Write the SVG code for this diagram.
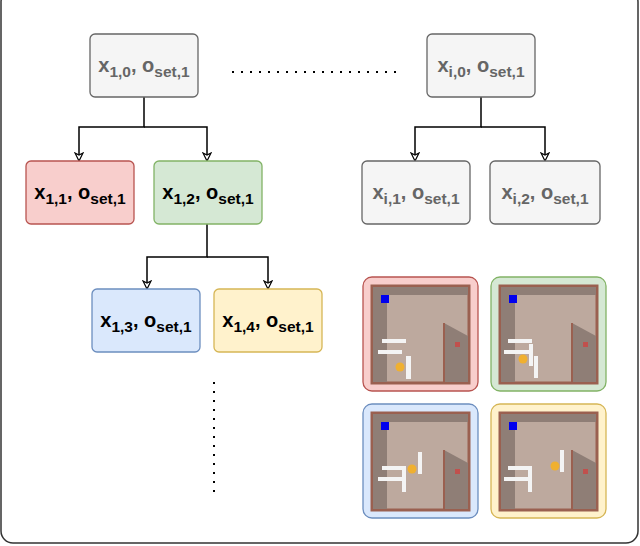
<svg xmlns="http://www.w3.org/2000/svg" xmlns:xlink="http://www.w3.org/1999/xlink" width="640" height="546" viewBox="0 0 640 546">
<style>
.n{stroke-width:1.3}
.t{font-family:"Liberation Sans",Arial,sans-serif;font-weight:bold;font-size:20px;text-anchor:middle}
.s{font-size:15.5px}
.g{fill:#666}
.c{fill:none;stroke:#000;stroke-width:1.5}
</style>
<defs>
<marker id="a" markerWidth="10" markerHeight="10" refX="8" refY="5" orient="auto" markerUnits="userSpaceOnUse" viewBox="0 0 10 10"><path d="M1,1 L9,5 L1,9 L3,5 Z" fill="#fff" stroke="#000" stroke-width="1.2"/></marker>
<g id="room">
<rect x="10" y="10" width="97" height="97" fill="#bda99e" stroke="#9a6050" stroke-width="3"/>
<rect x="11" y="11" width="95" height="8" fill="#8f7e76"/>
<rect x="11" y="11" width="14" height="95" fill="#8f7e76"/>
<path d="M82,47 L106,60 L106,106 L82,106 Z" fill="#8f7e76"/>
<line x1="82" y1="47" x2="82" y2="106" stroke="#9a6050" stroke-width="2"/>
<rect x="93" y="66" width="5" height="5" fill="#c0504d"/>
<rect x="19" y="19" width="8" height="8" fill="#0000ee"/>
</g>
</defs>
<rect x="1" y="-10" width="637" height="553" rx="12" fill="#fff" stroke="#333" stroke-width="1.5"/>
<g id="connectors">
<path class="c" d="M144,97 V127 H79 V160" marker-end="url(#a)"/>
<path class="c" d="M144,127 H207 V160" marker-end="url(#a)"/>
<path class="c" d="M481,97 V127 H415 V160" marker-end="url(#a)"/>
<path class="c" d="M481,127 H545 V160" marker-end="url(#a)"/>
<path class="c" d="M207,224 V257 H147 V288" marker-end="url(#a)"/>
<path class="c" d="M207,257 H268 V288" marker-end="url(#a)"/>
<line x1="232" y1="72" x2="397" y2="72" stroke="#000" stroke-width="2" stroke-dasharray="2,7"/>
<line x1="214" y1="382" x2="214" y2="496" stroke="#000" stroke-width="2" stroke-dasharray="2,7"/>
</g>
<g id="n10"><rect class="n" x="90" y="34" width="108" height="63" rx="5" fill="#f5f5f5" stroke="#666"/><text class="t g" x="144" y="72">x<tspan class="s" dy="5">1,0</tspan><tspan dy="-5">, o</tspan><tspan class="s" dy="5">set,1</tspan></text></g>
<g id="ni0"><rect class="n" x="427" y="34" width="108" height="63" rx="5" fill="#f5f5f5" stroke="#666"/><text class="t g" x="481" y="72">x<tspan class="s" dy="5">i,0</tspan><tspan dy="-5">, o</tspan><tspan class="s" dy="5">set,1</tspan></text></g>
<g id="n11"><rect class="n" x="26" y="161" width="108" height="63" rx="5" fill="#f8cecc" stroke="#b85450"/><text class="t" x="80" y="199">x<tspan class="s" dy="5">1,1</tspan><tspan dy="-5">, o</tspan><tspan class="s" dy="5">set,1</tspan></text></g>
<g id="n12"><rect class="n" x="154" y="161" width="108" height="63" rx="5" fill="#d5e8d4" stroke="#82b366"/><text class="t" x="208" y="199">x<tspan class="s" dy="5">1,2</tspan><tspan dy="-5">, o</tspan><tspan class="s" dy="5">set,1</tspan></text></g>
<g id="ni1"><rect class="n" x="362" y="161" width="108" height="63" rx="5" fill="#f5f5f5" stroke="#666"/><text class="t g" x="416" y="199">x<tspan class="s" dy="5">i,1</tspan><tspan dy="-5">, o</tspan><tspan class="s" dy="5">set,1</tspan></text></g>
<g id="ni2"><rect class="n" x="490" y="161" width="110" height="63" rx="5" fill="#f5f5f5" stroke="#666"/><text class="t g" x="545" y="199">x<tspan class="s" dy="5">i,2</tspan><tspan dy="-5">, o</tspan><tspan class="s" dy="5">set,1</tspan></text></g>
<g id="n13"><rect class="n" x="92" y="289" width="108" height="63" rx="5" fill="#dae8fc" stroke="#6c8ebf"/><text class="t" x="146" y="327">x<tspan class="s" dy="5">1,3</tspan><tspan dy="-5">, o</tspan><tspan class="s" dy="5">set,1</tspan></text></g>
<g id="n14"><rect class="n" x="214" y="289" width="108" height="63" rx="5" fill="#fff2cc" stroke="#d6b656"/><text class="t" x="268" y="327">x<tspan class="s" dy="5">1,4</tspan><tspan dy="-5">, o</tspan><tspan class="s" dy="5">set,1</tspan></text></g>
<g id="img1" transform="translate(362,276)"><rect x="1" y="1" width="115" height="114" rx="9" fill="#f8cecc" stroke="#b85450" stroke-width="1.3"/><use href="#room"/>
<rect x="20" y="63" width="24" height="4" fill="#f4f4f4"/><rect x="16" y="74" width="24" height="4" fill="#f4f4f4"/><rect x="44" y="80" width="5" height="23" fill="#f4f4f4"/><circle cx="38" cy="91" r="4.5" fill="#f0b030"/></g>
<g id="img2" transform="translate(490,276)"><rect x="1" y="1" width="115" height="114" rx="9" fill="#d5e8d4" stroke="#82b366" stroke-width="1.3"/><use href="#room"/>
<rect x="18" y="63" width="24" height="4" fill="#f4f4f4"/><rect x="14" y="74" width="26" height="4" fill="#f4f4f4"/><rect x="39" y="68" width="4" height="22" fill="#f4f4f4"/><rect x="44" y="80" width="4" height="22" fill="#f4f4f4"/><circle cx="33" cy="83" r="4.5" fill="#f0b030"/></g>
<g id="img3" transform="translate(362,403)"><rect x="1" y="1" width="115" height="114" rx="9" fill="#dae8fc" stroke="#6c8ebf" stroke-width="1.3"/><use href="#room"/>
<rect x="20" y="63" width="24" height="4" fill="#f4f4f4"/><rect x="16" y="74" width="24" height="4" fill="#f4f4f4"/><rect x="40" y="67" width="4" height="22" fill="#f4f4f4"/><rect x="56" y="49" width="4" height="22" fill="#f4f4f4"/><circle cx="50" cy="66" r="4.5" fill="#f0b030"/></g>
<g id="img4" transform="translate(490,403)"><rect x="1" y="1" width="115" height="114" rx="9" fill="#fff2cc" stroke="#d6b656" stroke-width="1.3"/><use href="#room"/>
<rect x="18" y="63" width="24" height="4" fill="#f4f4f4"/><rect x="14" y="74" width="24" height="4" fill="#f4f4f4"/><rect x="38" y="67" width="4" height="22" fill="#f4f4f4"/><rect x="70" y="47" width="4" height="22" fill="#f4f4f4"/><circle cx="65" cy="63" r="4.5" fill="#f0b030"/></g>
</svg>
